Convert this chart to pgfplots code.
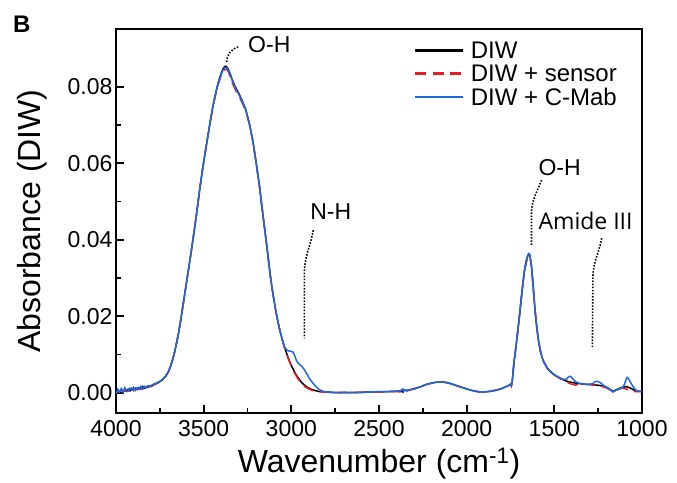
\documentclass[border=0pt]{standalone}
\usepackage{fontspec}
\setmainfont{Liberation Sans}
\newfontfamily\osans{Open Sans}
\usepackage{pgfplots}
\pgfplotsset{compat=1.18}
\definecolor{cblue}{RGB}{32,104,222}
\definecolor{cred}{RGB}{228,30,36}

\begin{document}
\begin{tikzpicture}
\path[use as bounding box] (0,0) rectangle (677pt,482pt);
\begin{axis}[
  at={(116pt,69pt)}, anchor=south west,
  scale only axis, width=526pt, height=384pt,
  x dir=reverse, xmin=1000, xmax=4000, ymin=-0.0053, ymax=0.0951,
  xtick={1000,1500,2000,2500,3000,3500,4000}, ytick={0,0.02,0.04,0.06,0.08},
  minor x tick num=1, minor y tick num=1,
  tick align=inside, tick pos=left,
  major tick length=8pt, minor tick length=5pt,
  every tick/.style={black, line width=1.8pt},
  axis line style={line width=2.6pt},
  scaled y ticks=false,
  /pgf/number format/assume math mode=true,
  tick label style={font=\fontsize{23}{27}\selectfont},
  xticklabel style={yshift=-4pt, /pgf/number format/1000 sep={}},
  yticklabel style={/pgf/number format/fixed, /pgf/number format/fixed zerofill, /pgf/number format/precision=2},
  label style={font=\fontsize{32}{38}\selectfont},
  xlabel={Wavenumber (cm\textsuperscript{-1})},
  ylabel={Absorbance (DIW)},
  xlabel style={yshift=-4pt},
  ylabel style={yshift=14pt},
  legend style={at={(0.5665,0.970)}, anchor=north west, draw=none, fill=none, inner sep=0pt,
    font=\fontsize{24}{28}\selectfont, row sep=3pt, column sep=5pt, nodes={inner sep=1pt}},
  legend cell align=left,
  legend image code/.code={\draw[mark repeat=2,mark phase=2,#1] plot coordinates {(0pt,0pt) (24pt,0pt) (48pt,0pt)};},
  legend image post style={line width=2.6pt},
]
\addplot[black, line width=1.5pt] table {
w a
4000 0.0002
3990 0.0007
3980 0.0001
3970 0.0008
3960 0.0003
3950 0.0010
3940 0.0004
3930 0.0009
3920 0.0005
3910 0.0011
3900 0.0006
3890 0.0012
3880 0.0008
3870 0.0013
3860 0.0010
3850 0.0016
3840 0.0011
3830 0.0015
3820 0.0014
3810 0.0018
3800 0.0017
3790 0.0021
3780 0.0022
3770 0.0025
3760 0.0026
3750 0.0029
3740 0.0032
3730 0.0037
3720 0.0042
3710 0.0048
3700 0.0056
3690 0.0068
3680 0.0082
3670 0.0098
3660 0.0118
3650 0.0140
3640 0.0164
3630 0.0192
3620 0.0222
3610 0.0252
3600 0.0282
3590 0.0312
3580 0.0342
3570 0.0372
3560 0.0404
3550 0.0436
3540 0.0470
3530 0.0505
3520 0.0540
3510 0.0573
3500 0.0603
3490 0.0632
3480 0.0660
3470 0.0688
3460 0.0716
3450 0.0742
3440 0.0765
3430 0.0786
3420 0.0805
3410 0.0821
3400 0.0835
3390 0.0846
3380 0.0853
3370 0.0853
3360 0.0846
3350 0.0835
3340 0.0822
3330 0.0810
3320 0.0800
3300 0.0783
3280 0.0763
3260 0.0740
3240 0.0705
3220 0.0660
3200 0.0600
3180 0.0535
3170 0.0495
3160 0.0458
3150 0.0422
3140 0.0385
3130 0.0345
3120 0.0307
3110 0.0274
3100 0.0245
3090 0.0218
3080 0.0194
3070 0.0172
3060 0.0153
3050 0.0136
3040 0.0121
3030 0.0107
3020 0.0094
3010 0.0082
3000 0.0071
2990 0.0062
2980 0.0053
2970 0.0045
2960 0.0038
2950 0.0032
2940 0.0026
2920 0.0018
2900 0.0012
2880 0.0008
2860 0.0005
2840 0.0003
2800 0.0002
2750 0.0000
2700 0.0001
2650 0.0000
2600 0.0001
2550 0.0002
2500 0.0002
2450 0.0003
2400 0.0004
2375 0.0005
2365 0.0002
2355 0.0007
2340 0.0005
2320 0.0008
2300 0.0010
2280 0.0013
2260 0.0016
2240 0.0020
2220 0.0023
2200 0.0025
2180 0.0027
2160 0.0028
2140 0.0028
2120 0.0027
2100 0.0025
2080 0.0022
2060 0.0019
2040 0.0016
2020 0.0013
2000 0.0010
1980 0.0007
1960 0.0005
1940 0.0003
1920 0.0002
1900 0.0002
1880 0.0003
1860 0.0004
1840 0.0006
1820 0.0008
1800 0.0011
1780 0.0015
1760 0.0019
1750 0.0022
1745 0.0018
1740 0.0030
1735 0.0055
1730 0.0080
1720 0.0115
1710 0.0155
1700 0.0195
1690 0.0240
1680 0.0283
1670 0.0320
1660 0.0345
1650 0.0360
1645 0.0363
1640 0.0360
1630 0.0330
1620 0.0275
1610 0.0215
1600 0.0170
1590 0.0135
1580 0.0110
1570 0.0092
1560 0.0080
1540 0.0064
1520 0.0054
1500 0.0047
1480 0.0041
1460 0.0036
1440 0.0032
1420 0.0029
1400 0.0027
1380 0.0025
1360 0.0024
1340 0.0023
1320 0.0022
1300 0.0022
1280 0.0021
1260 0.0020
1240 0.0019
1220 0.0018
1200 0.0014
1180 0.0008
1165 0.0003
1150 0.0007
1130 0.0011
1110 0.0014
1090 0.0016
1070 0.0013
1050 0.0008
1030 0.0004
1000 0.0003
};
\addlegendentry{DIW}
\addplot[cred, line width=1.5pt, dash pattern=on 11pt off 6.5pt] table {
w a
4000 0.0000
3980 0.0004
3960 0.0006
3940 0.0003
3920 0.0008
3900 0.0007
3880 0.0010
3860 0.0009
3840 0.0013
3820 0.0014
3800 0.0016
3780 0.0021
3760 0.0026
3740 0.0031
3720 0.0041
3700 0.0055
3680 0.0081
3660 0.0117
3640 0.0163
3620 0.0221
3600 0.0281
3580 0.0341
3560 0.0403
3540 0.0469
3520 0.0539
3500 0.0602
3480 0.0659
3460 0.0714
3440 0.0763
3420 0.0802
3400 0.0830
3390 0.0840
3380 0.0845
3370 0.0846
3360 0.0840
3350 0.0828
3340 0.0813
3320 0.0793
3300 0.0776
3280 0.0758
3260 0.0737
3240 0.0703
3220 0.0658
3200 0.0598
3180 0.0533
3160 0.0456
3140 0.0383
3120 0.0305
3100 0.0243
3080 0.0192
3060 0.0151
3040 0.0119
3020 0.0092
3000 0.0069
2980 0.0050
2960 0.0035
2940 0.0023
2920 0.0015
2900 0.0010
2880 0.0006
2850 0.0003
2800 0.0001
2700 0.0000
2600 0.0001
2500 0.0002
2400 0.0003
2375 0.0002
2365 -0.0002
2355 0.0005
2320 0.0008
2280 0.0013
2240 0.0020
2200 0.0025
2160 0.0028
2140 0.0029
2120 0.0027
2080 0.0022
2040 0.0016
2000 0.0010
1960 0.0005
1920 0.0002
1880 0.0003
1840 0.0006
1800 0.0011
1760 0.0019
1750 0.0022
1745 0.0017
1740 0.0029
1730 0.0079
1710 0.0154
1690 0.0239
1670 0.0319
1650 0.0358
1645 0.0361
1640 0.0358
1630 0.0328
1610 0.0214
1590 0.0134
1570 0.0091
1540 0.0063
1500 0.0046
1480 0.0041
1460 0.0035
1440 0.0030
1420 0.0026
1400 0.0022
1380 0.0020
1360 0.0022
1340 0.0023
1320 0.0022
1300 0.0021
1280 0.0020
1260 0.0021
1240 0.0018
1220 0.0015
1200 0.0012
1180 0.0007
1165 0.0003
1150 0.0006
1130 0.0010
1110 0.0012
1090 0.0010
1070 0.0005
1050 0.0003
1030 0.0003
1000 0.0003
};
\addlegendentry{DIW + sensor}
\addplot[cblue, line width=1.5pt] table {
w a
4000 -0.0003
3990 0.0009
3980 0.0002
3970 0.0011
3960 0.0001
3950 0.0013
3940 0.0006
3930 0.0004
3920 0.0012
3910 0.0007
3900 0.0014
3890 0.0006
3880 0.0013
3870 0.0009
3860 0.0016
3850 0.0010
3840 0.0017
3830 0.0012
3820 0.0018
3810 0.0016
3800 0.0019
3790 0.0020
3780 0.0024
3770 0.0024
3760 0.0028
3750 0.0030
3740 0.0032
3730 0.0037
3720 0.0042
3710 0.0048
3700 0.0056
3690 0.0068
3680 0.0082
3670 0.0098
3660 0.0118
3650 0.0140
3640 0.0164
3630 0.0192
3620 0.0222
3610 0.0252
3600 0.0282
3590 0.0312
3580 0.0342
3570 0.0372
3560 0.0404
3550 0.0436
3540 0.0470
3530 0.0505
3520 0.0540
3510 0.0573
3500 0.0603
3490 0.0632
3480 0.0660
3470 0.0688
3460 0.0716
3450 0.0742
3440 0.0765
3430 0.0786
3420 0.0804
3410 0.0819
3400 0.0832
3390 0.0843
3380 0.0849
3370 0.0850
3360 0.0844
3350 0.0833
3340 0.0820
3330 0.0808
3320 0.0798
3300 0.0781
3280 0.0761
3260 0.0739
3240 0.0705
3220 0.0660
3200 0.0600
3180 0.0535
3170 0.0495
3160 0.0458
3150 0.0422
3140 0.0385
3130 0.0345
3120 0.0307
3110 0.0274
3100 0.0245
3090 0.0218
3080 0.0194
3070 0.0172
3060 0.0153
3050 0.0136
3040 0.0121
3030 0.0114
3020 0.0110
3010 0.0109
3000 0.0108
2990 0.0106
2980 0.0096
2970 0.0083
2960 0.0077
2950 0.0073
2940 0.0069
2930 0.0063
2920 0.0056
2910 0.0048
2900 0.0040
2890 0.0033
2880 0.0027
2870 0.0021
2860 0.0016
2850 0.0012
2840 0.0008
2820 0.0004
2800 0.0002
2750 0.0001
2700 0.0000
2650 0.0001
2600 0.0001
2550 0.0002
2500 0.0003
2450 0.0003
2400 0.0004
2375 0.0006
2365 0.0010
2360 0.0003
2355 0.0008
2340 0.0006
2320 0.0008
2300 0.0010
2280 0.0013
2260 0.0016
2240 0.0020
2220 0.0023
2200 0.0025
2180 0.0027
2160 0.0028
2140 0.0028
2120 0.0027
2100 0.0025
2080 0.0022
2060 0.0019
2040 0.0016
2020 0.0013
2000 0.0010
1980 0.0007
1960 0.0005
1940 0.0003
1920 0.0002
1900 0.0002
1880 0.0003
1860 0.0004
1840 0.0006
1820 0.0008
1800 0.0011
1780 0.0015
1760 0.0019
1750 0.0022
1745 0.0019
1740 0.0031
1735 0.0056
1730 0.0081
1720 0.0116
1710 0.0156
1700 0.0196
1690 0.0241
1680 0.0284
1670 0.0321
1660 0.0346
1650 0.0361
1645 0.0364
1640 0.0361
1630 0.0331
1620 0.0276
1610 0.0216
1600 0.0171
1590 0.0136
1580 0.0111
1570 0.0093
1560 0.0081
1540 0.0065
1520 0.0055
1500 0.0047
1480 0.0042
1460 0.0037
1440 0.0034
1430 0.0036
1420 0.0041
1410 0.0043
1400 0.0040
1390 0.0034
1380 0.0029
1360 0.0025
1340 0.0023
1320 0.0022
1300 0.0022
1280 0.0024
1270 0.0028
1260 0.0030
1250 0.0029
1240 0.0027
1230 0.0024
1220 0.0019
1200 0.0013
1180 0.0007
1165 0.0002
1150 0.0006
1130 0.0010
1110 0.0014
1100 0.0022
1090 0.0036
1085 0.0040
1075 0.0036
1065 0.0027
1055 0.0019
1045 0.0012
1030 0.0005
1000 0.0003
};
\addlegendentry{DIW + C-Mab}
% peak annotations
\draw[black, line width=1.6pt, dash pattern=on 1.5pt off 1.6pt] (axis cs:3369,0.0865) to[out=88,in=195] (axis cs:3297,0.0905);
\node[anchor=west, inner sep=0pt, font=\fontsize{23}{27}\selectfont] at (axis cs:3247,0.0910) {O-H};
\draw[black, line width=1.6pt, dash pattern=on 1.5pt off 1.6pt] (axis cs:2875,0.0425) to[out=-100,in=90] (axis cs:2926,0.031) -- (axis cs:2926,0.0142);
\node[anchor=west, inner sep=0pt, font=\fontsize{23}{27}\selectfont] at (axis cs:2893,0.0473) {N-H};
\draw[black, line width=1.6pt, dash pattern=on 1.5pt off 1.6pt] (axis cs:1573,0.0556) to[out=-110,in=90] (axis cs:1630,0.047) -- (axis cs:1630,0.0386);
\node[anchor=west, inner sep=0pt, font=\fontsize{23}{27}\selectfont] at (axis cs:1591,0.0589) {O-H};
\draw[black, line width=1.6pt, dash pattern=on 1.5pt off 1.6pt] (axis cs:1230,0.0404) to[out=-100,in=90] (axis cs:1280,0.030) -- (axis cs:1283,0.012);
\node[anchor=west, inner sep=0pt, font=\osans\fontsize{23}{27}\selectfont] at (axis cs:1591,0.0449) {Amide III};
\end{axis}
\node[font=\bfseries\fontsize{24}{28}\selectfont, inner sep=0pt] at (21.7pt,458.2pt) {B};
\end{tikzpicture}
\end{document}
